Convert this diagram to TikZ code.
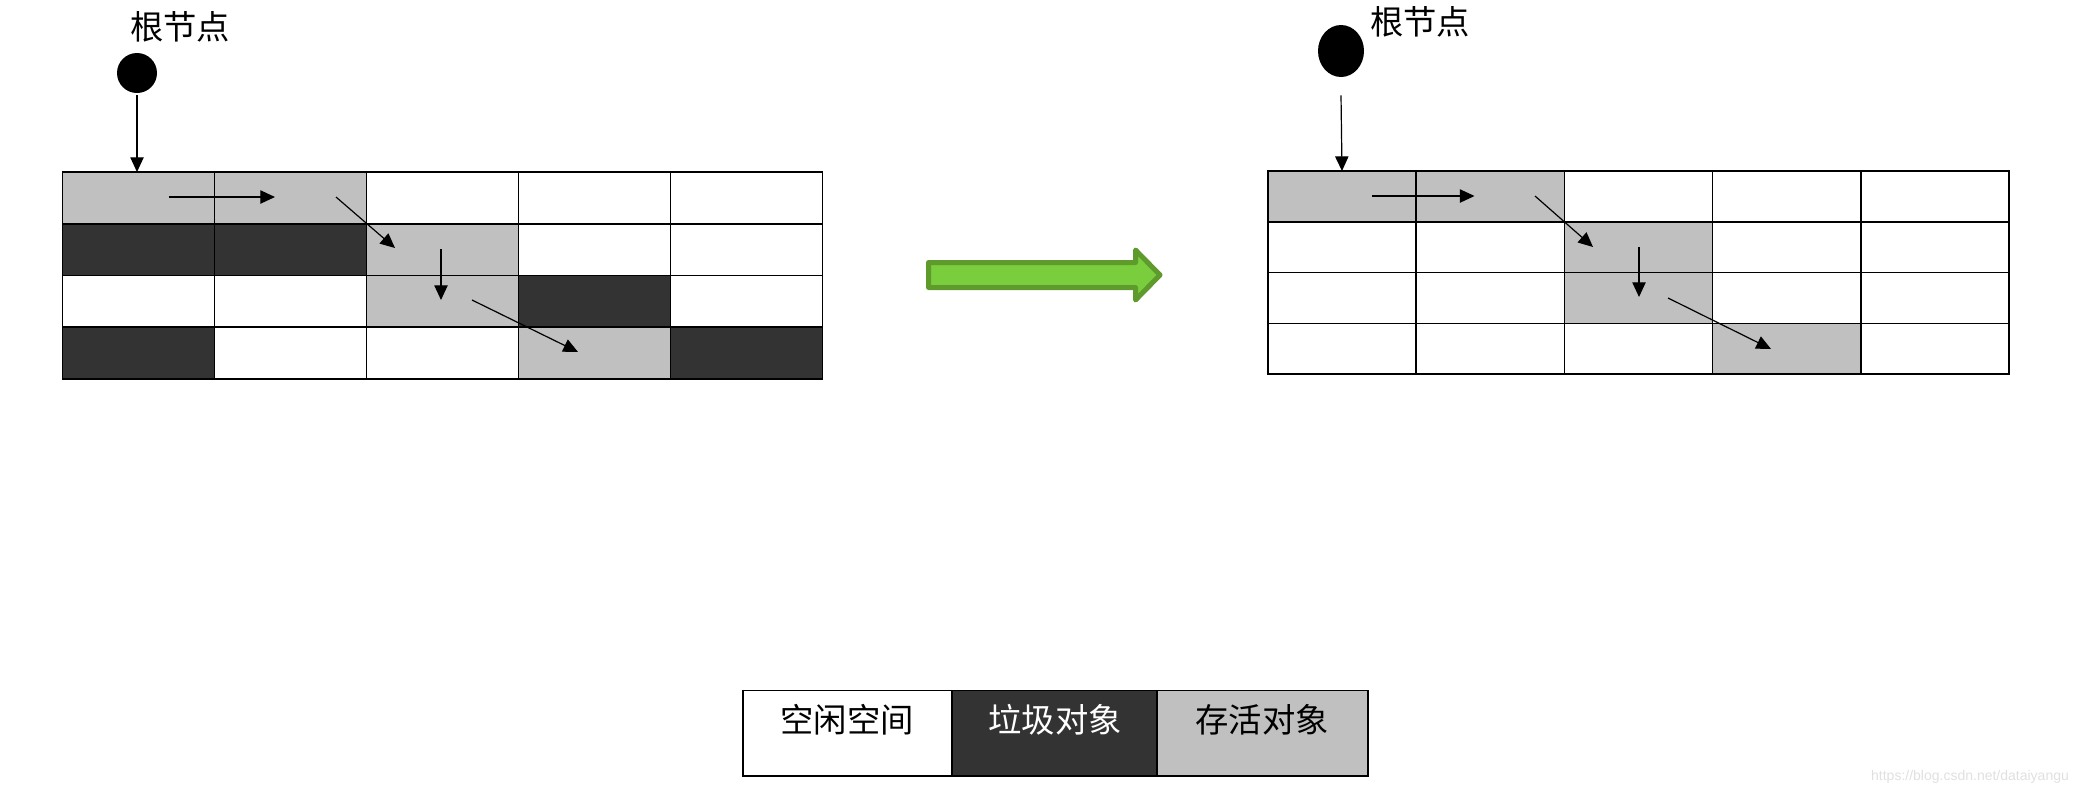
\documentclass[tikz,border=0pt]{standalone}
\usepackage{fontspec}
\setmainfont{Liberation Sans}
\newfontfamily\cjk{Noto Sans CJK SC}
\usepackage{tikz}
\usetikzlibrary{arrows.meta, shapes.geometric}
\definecolor{livegray}{RGB}{192,192,192}
\definecolor{deadgray}{RGB}{51,51,51}
\definecolor{arrowgreen}{RGB}{122,205,60}
\definecolor{arrowborder}{RGB}{94,155,44}
\definecolor{wmgray}{RGB}{224,224,224}
\tikzstyle{arrow} = [line width=0.9pt,-{Triangle[length=11pt,width=10pt]}]
\tikzstyle{cell} = [line width=1.2pt]
\tikzstyle{cjktext} = [inner sep=0pt, font=\cjk\fontsize{25}{30}\selectfont]
\tikzstyle{legendbox} = [draw, line width=1.3pt, minimum height=64pt, inner sep=0pt]

\begin{document}
\begin{tikzpicture}[x=0.75pt,y=0.75pt,yscale=-1,xscale=1]
\useasboundingbox (0,0) rectangle (2090,794);

%Shape: Rectangle [live, left grid]
\fill [livegray] (62.5,172) rectangle (366.5,223.7);
\fill [livegray] (366.5,223.7) rectangle (518.5,327);
\fill [livegray] (518.5,327) rectangle (670.5,378.7);
%Shape: Rectangle [dead, left grid]
\fill [deadgray] (62.5,223.7) rectangle (366.5,275.3);
\fill [deadgray] (518.5,275.3) rectangle (670.5,327);
\fill [deadgray] (62.5,327) rectangle (214.5,378.7);
\fill [deadgray] (670.5,327) rectangle (822.5,378.7);
%Shape: Grid [left]
\draw [cell] (62.5,172) rectangle (822.5,378.7);
\draw [cell] (214.5,172) -- (214.5,378.7) (366.5,172) -- (366.5,378.7) (518.5,172) -- (518.5,378.7) (670.5,172) -- (670.5,378.7);
\draw [cell] (62.5,223.7) -- (822.5,223.7) (62.5,275.3) -- (822.5,275.3) (62.5,327) -- (822.5,327);

%Shape: Rectangle [live, right grid]
\fill [livegray] (1268,171) rectangle (1564.4,221.8);
\fill [livegray] (1564.4,221.8) rectangle (1712.6,323.3);
\fill [livegray] (1712.6,323.3) rectangle (1860.8,374);
%Shape: Grid [right]
\draw [cell] (1268,171) rectangle (2009,374);
\draw [cell] (1416.2,171) -- (1416.2,374) (1564.4,171) -- (1564.4,374) (1712.6,171) -- (1712.6,374) (1860.8,171) -- (1860.8,374);
\draw [cell] (1268,221.8) -- (2009,221.8) (1268,272.5) -- (2009,272.5) (1268,323.3) -- (2009,323.3);

% Root nodes
\node (rootL) [circle, fill=black, minimum size=30pt, inner sep=0pt] at (137,73) {};
\node (rootR) [ellipse, fill=black, minimum width=34.5pt, minimum height=39pt, inner sep=0pt] at (1341,51) {};
% Text Node
\node (rootLtext) [cjktext] at (180,27) {根节点};
% Text Node
\node (rootRtext) [cjktext] at (1420,22) {根节点};

% Reference chain, left
\coordinate (topL) at (137,172);
\coordinate (pa) at (169,197);
\coordinate (pb) at (275,197);
\coordinate (pc) at (336,197);
\coordinate (pd) at (395,248);
\coordinate (pe) at (441,249);
\coordinate (pf) at (441,300);
\coordinate (pg) at (472,300);
\coordinate (ph) at (578,352);
\draw [arrow] ([yshift=1.5pt]rootL.south) -- (topL);
\draw [arrow] (pa) -- (pb);
\draw [arrow] (pc) -- (pd);
\draw [arrow] (pe) -- (pf);
\draw [arrow] (pg) -- (ph);

% Reference chain, right
\coordinate (topR) at (1342,171);
\coordinate (qa) at (1372,196);
\coordinate (qb) at (1474.5,196);
\coordinate (qc) at (1535,196);
\coordinate (qd) at (1593,247);
\coordinate (qe) at (1639,247);
\coordinate (qf) at (1639,297);
\coordinate (qg) at (1668,298);
\coordinate (qh) at (1771,349);
\draw [arrow] ([yshift=13.5pt]rootR.south) -- (topR);
\draw [arrow] (qa) -- (qb);
\draw [arrow] (qc) -- (qd);
\draw [arrow] (qe) -- (qf);
\draw [arrow] (qg) -- (qh);

%Shape: Right Arrow [green]
\draw [line width=3.75pt, line join=round, draw=arrowborder, fill=arrowgreen] (928.5,262.5) -- (1135.5,262.5) -- (1135.5,250) -- (1160,275) -- (1135.5,300) -- (1135.5,287.5) -- (928.5,287.5) -- cycle;

% Legend
\node (freebox) [legendbox, fill=white, minimum width=157pt] at (847.35,733.25) {};
\node (deadbox) [legendbox, fill=deadgray, minimum width=153.75pt] at (1054.5,733.25) {};
\node (livebox) [legendbox, fill=livegray, minimum width=158.25pt] at (1262.5,733.25) {};
% Text Node
\node (freetext) [cjktext] at (847,720) {空闲空间};
% Text Node
\node (deadtext) [cjktext, text=white] at (1055,720) {垃圾对象};
% Text Node
\node (livetext) [cjktext] at (1262,720) {存活对象};

% Text Node
\node (wmark) [inner sep=0pt, text=wmgray, font=\fontsize{10.5}{12}\selectfont] at (1970,776.5) {https://blog.csdn.net/dataiyangu};

\end{tikzpicture}
\end{document}
